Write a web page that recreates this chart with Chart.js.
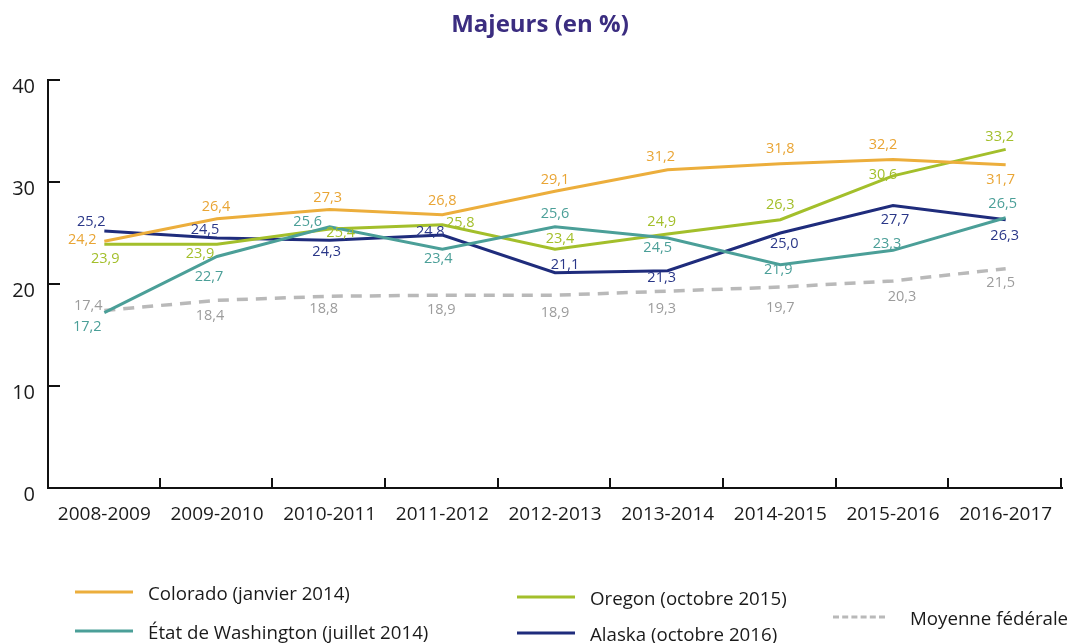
<!DOCTYPE html>
<html lang="fr">
<head>
<meta charset="utf-8">
<title>Majeurs (en %)</title>
<script src="https://cdn.jsdelivr.net/npm/chart.js@4.4.1/dist/chart.umd.min.js"></script>
<style>
  html, body { margin: 0; padding: 0; background: #fff; }
  #wrap { position: relative; width: 1070px; height: 643px; font-family: "Open Sans", sans-serif; }
  #wrap canvas { position: absolute; left: 0; top: 0; }
  #title { position: absolute; left: 0; width: 1080px; top: 22px; transform: translateY(-50%); text-align: center; font-size: 24px; font-weight: bold; color: #3b2d80; white-space: nowrap; }
  .leg { position: absolute; display: flex; align-items: center; font-size: 18.7px; color: #1a1a1a; white-space: nowrap; transform: translateY(-50%); }
  .leg .sw { width: 58px; height: 0; border-top: 3px solid; margin-right: 15px; }
  .leg .sw.dash { width: 52px; border-top: 3px dashed; margin-right: 25px; }
</style>
</head>
<body>
<div id="wrap">
  <canvas id="chart" width="1070" height="643"></canvas>
  <div id="title">Majeurs (en %)</div>
  <div id="legend"></div>
</div>
<script>
// Data
const years = ["2008-2009", "2009-2010", "2010-2011", "2011-2012", "2012-2013", "2013-2014", "2014-2015", "2015-2016", "2016-2017"];
const colorado = [24.2, 26.4, 27.3, 26.8, 29.1, 31.2, 31.8, 32.2, 31.7];
const washington = [17.2, 22.7, 25.6, 23.4, 25.6, 24.5, 21.9, 23.3, 26.5];
const oregon = [23.9, 23.9, 25.4, 25.8, 23.4, 24.9, 26.3, 30.6, 33.2];
const alaska = [25.2, 24.5, 24.3, 24.8, 21.1, 21.3, 25.0, 27.7, 26.3];
const federale = [17.4, 18.4, 18.8, 18.9, 18.9, 19.3, 19.7, 20.3, 21.5];
const yTicks = [0, 10, 20, 30, 40];

// where each value label sits relative to its point [dx, dy]
const coloradoLbl = [[-22, -1], [-1, -12], [-2, -12], [0, -14], [0, -11], [-7, -13], [0, -15], [-10, -15], [-5, 15]];
const washingtonLbl = [[-17, 14], [-8, 20], [-22, -5], [-4, 10], [0, -13], [-10, 10], [-2, 5], [-6, -6], [-3, -14]];
const oregonLbl = [[1, 15], [-17, 10], [11, 4], [18, -2], [5, -10], [-6, -12], [0, -15], [-10, -1], [-6, -12]];
const alaskaLbl = [[-13, -9], [-12, -8], [-3, 12], [-12, -3], [10, -8], [-6, 7], [4, 11], [2, 14], [-1, 16]];
const federaleLbl = [[-16, -5], [-7, 16], [-6, 13], [-1, 15], [0, 18], [-6, 18], [0, 21], [9, 16], [-5, 14]];

// legend spots [left, centerY]
const legendSpots = [[75, 592], [75, 631], [517, 597], [517, 633], [833, 617]];

const FONT = "'Open Sans', sans-serif";
const chartCanvas = document.getElementById("chart");
const legendBox = document.getElementById("legend");

function line(label, data, color, textColor, lbl, extra) {
    return Object.assign({
        label: label,
        data: data,
        borderColor: color,
        backgroundColor: color,
        borderWidth: 3,
        pointRadius: 0,
        tension: 0,
        fill: false,
        textColor: textColor,
        lbl: lbl
    }, extra || {});
}

const datasets = [
    line("Colorado (janvier 2014)", colorado, "#ecae3c", "#e9a535", coloradoLbl),
    line("État de Washington (juillet 2014)", washington, "#4b9f98", "#4b9f98", washingtonLbl),
    line("Oregon (octobre 2015)", oregon, "#a3bf2b", "#a3bf2b", oregonLbl),
    line("Alaska (octobre 2016)", alaska, "#1f2c7c", "#2a3788", alaskaLbl),
    line("Moyenne fédérale", federale, "#b9b9b9", "#9c9c9c", federaleLbl, { borderDash: [11, 8], borderWidth: 3.5 })
];

const valueLabels = {
    id: "valueLabels",
    afterDatasetsDraw(chart) {
        const ctx = chart.ctx;
        ctx.save();
        ctx.font = "14.5px " + FONT;
        ctx.textAlign = "center";
        ctx.textBaseline = "middle";
        chart.data.datasets.forEach(function(ds, i) {
            const meta = chart.getDatasetMeta(i);
            ctx.fillStyle = ds.textColor;
            meta.data.forEach(function(pt, j) {
                const off = ds.lbl[j];
                ctx.fillText(ds.data[j].toFixed(1).replace(".", ","), pt.x + off[0], pt.y + off[1]);
            });
        });
        ctx.restore();
    }
};

const axisTicks = {
    id: "axisTicks",
    afterDraw(chart) {
        const ctx = chart.ctx;
        const a = chart.chartArea;
        const y = chart.scales.y;
        ctx.save();
        ctx.strokeStyle = "#111";
        ctx.lineWidth = 2;
        ctx.beginPath();
        yTicks.forEach(function(v) {
            if (v === 0) return;
            const py = Math.round(y.getPixelForValue(v));
            ctx.moveTo(a.left, py);
            ctx.lineTo(a.left + 12, py);
        });
        const step = (a.right - a.left) / years.length;
        for (let i = 1; i <= years.length; i++) {
            const px = Math.round(a.left + i * step) - 1;
            ctx.moveTo(px, a.bottom);
            ctx.lineTo(px, a.bottom - 10);
        }
        ctx.stroke();
        ctx.restore();
    }
};

new Chart(chartCanvas, {
    type: "line",
    data: { labels: years, datasets: datasets },
    plugins: [valueLabels, axisTicks],
    options: {
        responsive: false,
        animation: false,
        layout: { padding: { left: 0, right: 8, top: 80, bottom: 95 } },
        plugins: {
            legend: { display: false },
            tooltip: { enabled: false },
            title: { display: false }
        },
        scales: {
            x: {
                offset: true,
                grid: { display: true, drawOnChartArea: false, drawTicks: false },
                border: { display: true, color: "#111", width: 2 },
                ticks: { color: "#1a1a1a", font: { family: FONT, size: 19 }, padding: 15, maxRotation: 0, autoSkip: false },
                afterFit(scale) { scale.height = 60; }
            },
            y: {
                min: 0,
                max: 40,
                afterBuildTicks(scale) { scale.ticks = yTicks.map(function(v) { return { value: v }; }); },
                grid: { drawOnChartArea: false, drawTicks: false },
                border: { display: true, color: "#111", width: 2 },
                ticks: { color: "#1a1a1a", font: { family: FONT, size: 20 }, padding: 13, labelOffset: 7 },
                afterFit(scale) { scale.width = 48; }
            }
        }
    }
});

// HTML legend laid out like the original
datasets.forEach(function(ds, i) {
    const item = document.createElement("div");
    item.className = "leg";
    item.style.left = legendSpots[i][0] + "px";
    item.style.top = legendSpots[i][1] + "px";
    const sw = document.createElement("span");
    sw.className = ds.borderDash ? "sw dash" : "sw";
    sw.style.borderTopColor = ds.borderColor;
    const txt = document.createElement("span");
    txt.textContent = ds.label;
    item.append(sw, txt);
    legendBox.append(item);
});
</script>
</body>
</html>
